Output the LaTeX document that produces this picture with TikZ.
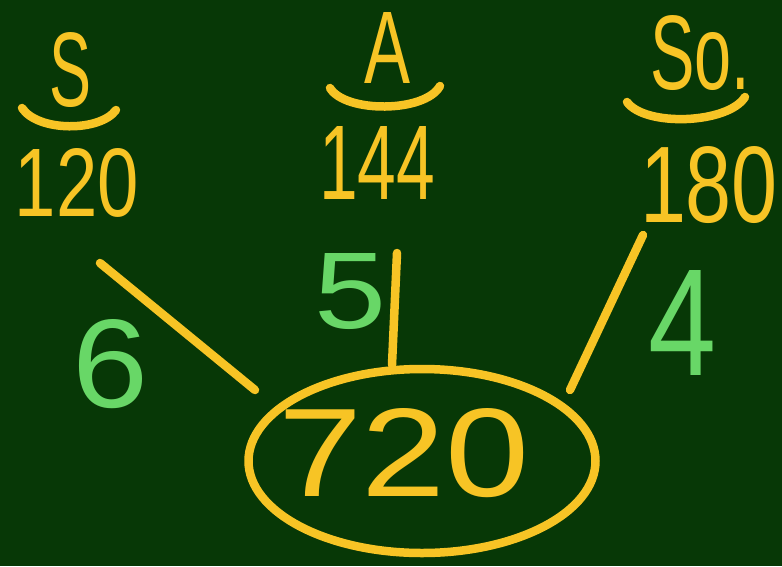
\documentclass[tikz,border=0pt]{standalone}
\usepackage{fontspec}
\usepackage{graphicx}
\setmainfont{Liberation Sans}
\definecolor{board}{HTML}{073806}
\definecolor{chalkY}{HTML}{F7C425}
\definecolor{chalkG}{HTML}{68D767}
\usetikzlibrary{shapes.geometric}
\newcommand{\hw}[3]{\resizebox{#1pt}{#2pt}{#3}}
\begin{document}
\begin{tikzpicture}[x=1pt,y=-1pt,
  ylab/.style={text=chalkY,inner sep=0pt,font=\fontsize{100}{100}\selectfont},
  glab/.style={text=chalkG,inner sep=0pt,font=\fontsize{100}{100}\selectfont},
  chalk/.style={draw=chalkY,line width=8.5pt,line cap=round,line join=round}]
\fill[board] (0,0) rectangle (782,566);
\useasboundingbox (0,0) rectangle (782,566);
% headers
\node[ylab] (s) at (70,70) {\hw{42}{74}{S}};
\node[ylab] (a) at (387,48) {\hw{46}{71}{A}};
\node[ylab] (so) at (700,53) {\hw{100}{74}{So.}};
\draw[chalk] (22,108) .. controls (38,132) and (100,132) .. (116,110);
\draw[chalk] (330,88) .. controls (345,113) and (425,113) .. (440,86);
\draw[chalk] (627,102) .. controls (645,127) and (728,124) .. (745,97);
% numbers
\node[ylab] (n120) at (77,183) {\hw{124}{68}{120}};
\node[ylab] (n144) at (377,163) {\hw{116}{73}{144}};
\node[ylab] (n180) at (709,185) {\hw{138}{76}{180}};
% ellipse
\node[ellipse,chalk,minimum width=347pt,minimum height=184pt,inner sep=0pt] (c) at (422,461) {};
\node[ylab] (n720) at (404,453) {\hw{252}{88}{720}};
% connector ends
\coordinate (l1) at (100,263);
\coordinate (l2) at (255,390);
\coordinate (m1) at (397,253);
\coordinate (m2) at (c.north);
\coordinate (r1) at (643,235);
\coordinate (r2) at (570,390);
\draw[chalk] (l1) -- (l2);
\draw[chalk] (m1) -- (m2 -| 392,0);
\draw[chalk] (r1) -- (r2);
% green labels
\node[glab] (g6) at (111,364) {\hw{76}{88}{6}};
\node[glab] (g5) at (351,292) {\hw{72}{75}{5}};
\node[glab] (g4) at (682,323) {\hw{68}{105}{4}};
\end{tikzpicture}
\end{document}
